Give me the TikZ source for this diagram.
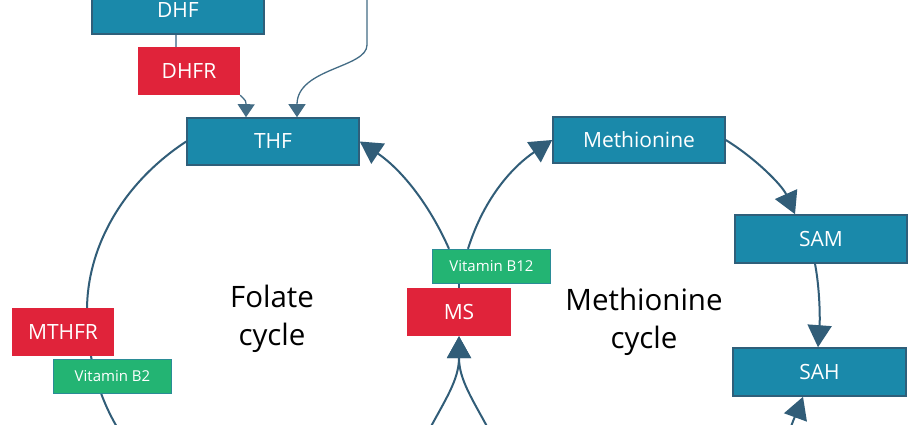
\documentclass[tikz,border=0pt]{standalone}
\usepackage{fontspec}
\setmainfont{Open Sans}
\usetikzlibrary{arrows.meta}
\pgfdeclarelayer{background}
\pgfsetlayers{background,main}
\definecolor{teal}{HTML}{1A89AA}
\definecolor{tealborder}{HTML}{2F5F7A}
\definecolor{redbox}{HTML}{E0233A}
\definecolor{greenbox}{HTML}{23B473}
\definecolor{greenborder}{HTML}{2A8C96}
\definecolor{linecol}{HTML}{315D78}
\definecolor{lightline}{HTML}{7A97AD}
\tikzset{
  bluebox/.style={draw=tealborder, line width=1.6pt, fill=teal, text=white,
    font=\fontsize{21}{25}\selectfont, minimum width=172pt, minimum height=47pt, inner sep=0pt},
  redb/.style={fill=redbox, text=white, font=\fontsize{21}{25}\selectfont,
    minimum width=102pt, minimum height=48pt, inner sep=0pt},
  greenb/.style={draw=greenborder, line width=1.4pt, fill=greenbox, text=white,
    font=\fontsize{15}{18}\selectfont, minimum width=118pt, minimum height=34pt, inner sep=0pt},
  cyc/.style={draw=linecol, line width=2pt},
  cycarrow/.style={cyc, -{Triangle[length=22pt,width=24pt]}},
  thinline/.style={draw=lightline, line width=1.3pt},
  thinarrow/.style={draw=linecol!75!lightline, line width=1.3pt, -{Triangle[length=13pt,width=17pt]}},
  lbl/.style={font=\fontsize{29.5}{38}\selectfont, align=center, text=black}
}
\begin{document}
\begin{tikzpicture}[x=1pt,y=-1pt]
\clip (0,0) rectangle (920,425);
% free ends
\coordinate (topin) at (367,-5);
\coordinate (topbend) at (367,45);
\coordinate (leftend) at (120,432);
\coordinate (msl) at (428,432);
\coordinate (msr) at (490,432);
\coordinate (sahin) at (789,432);
% nodes
\node[bluebox] (dhf) at (178,10.5) {DHF};
\node[redb] (dhfr) at (189,71) {DHFR};
\node[bluebox] (thf) at (273,141.5) {THF};
\node[bluebox, minimum height=46pt] (met) at (639,140) {Methionine};
\node[bluebox, minimum height=48pt] (sam) at (821,239) {SAM};
\node[bluebox, minimum height=48pt, minimum width=173pt] (sah) at (819.5,372) {SAH};
\node[greenb] (b12) at (491.5,266.5) {Vitamin B12};
\node[redb, minimum width=104pt] (ms) at (459,312) {MS};
\node[redb] (mthfr) at (63,332) {MTHFR};
\node[greenb] (b2) at (112.5,376.5) {Vitamin B2};
% cycle labels
\node[lbl] (folate) at (272,319) {Folate\\cycle};
\node[lbl] (metcyc) at (644,322) {Methionine\\cycle};
% connectors
\begin{pgfonlayer}{background}
  \fill[white] (0,0) rectangle (920,425);
  % top region
  \draw[thinline] (dhf.south -| 176,0) -- (dhfr.north -| 176,0);
  \draw[thinarrow] (dhfr.south east) .. controls ([shift={(6,6)}]dhfr.south east) .. (thf.north -| 246,0);
  \draw[thinarrow] (topin) -- (topbend) .. controls (367,68) and (297,68) .. (thf.north -| 297,0);
  % folate cycle
  \draw[cyc] (thf.west) .. controls (120,185) and (87,250) .. (87,310)
             .. controls (87,360) and (100,400) .. (leftend);
  \draw[cycarrow] (b12.north -| 449,0) .. controls (425,195) and (395,165) .. (thf.east);
  \draw[cycarrow] (msl) .. controls (445,400) and (459,380) .. (ms.south);
  \draw[cycarrow] (msr) .. controls (473,400) and (459,380) .. (ms.south);
  \draw[cyc] (b12.south -| 459,0) -- (ms.north);
  % methionine cycle
  \draw[cycarrow] (b12.north -| 468,0) .. controls (485,195) and (515,165) .. (met.west);
  \draw[cycarrow] (met.east) .. controls (755,158) and (782,185) .. (sam.north -| 795,0);
  \draw[cycarrow] (sam.south -| 815,0) .. controls (820,290) and (820,320) .. (sah.north -| 818,0);
  \draw[cycarrow] (sahin) .. controls (795,415) and (800,405) .. (sah.south -| 803,0);
\end{pgfonlayer}
\end{tikzpicture}
\end{document}
